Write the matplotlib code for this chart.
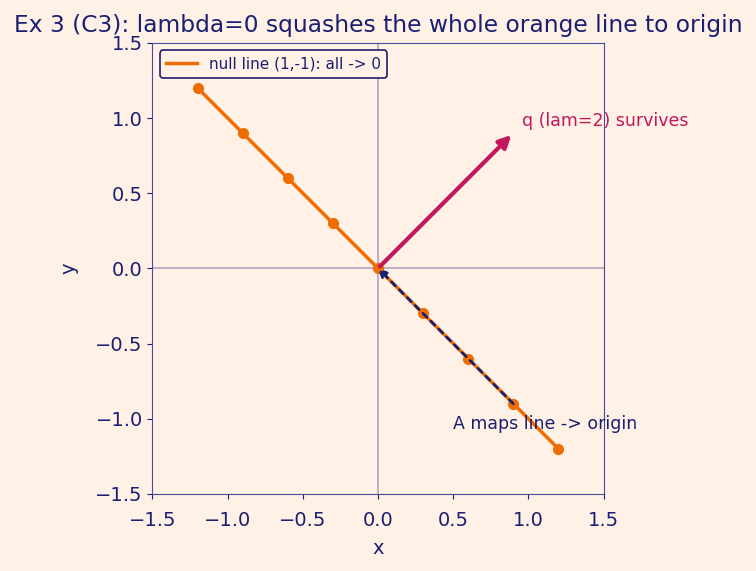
import numpy as np
import matplotlib
matplotlib.use("Agg")
import matplotlib.pyplot as plt

# points on the null line (1,-1)
t_vals = [-1.2, -0.9, -0.6, -0.3, 0.0, 0.3, 0.6, 0.9, 1.2]
line_x = [t for t in t_vals]
line_y = [-t for t in t_vals]

q_vec = [0.9, 0.9]
mapped_start = [0.9, -0.9]
mapped_end = [0.0, 0.0]

bg = "#fff1e6"
navy = "#1a1f71"
orange = "#ef6c00"
crimson = "#c2185b"

fig = plt.figure(figsize=(7.56, 5.71), dpi=100, facecolor=bg)
ax = fig.add_axes([0.201, 0.135, 0.598, 0.79])
ax.set_facecolor(bg)

ax.axhline(0, color="#b3a3c3", lw=1.2, zorder=1)
ax.axvline(0, color="#b3a3c3", lw=1.2, zorder=1)

ax.plot(line_x, line_y, color=orange, lw=2.5, zorder=3,
        label="null line (1,-1): all -> 0")
ax.plot(line_x, line_y, color=orange, lw=0, marker="o", ms=7, zorder=3)

ax.annotate("", xy=q_vec, xytext=(0, 0),
            arrowprops=dict(arrowstyle="-|>", color=crimson, lw=3, mutation_scale=18),
            zorder=4)
ax.text(0.96, 0.95, "q (lam=2) survives", color=crimson, fontsize=12.5)

ax.annotate("", xy=mapped_end, xytext=mapped_start,
            arrowprops=dict(arrowstyle="-|>", color=navy, lw=2, ls=(0, (2, 2)),
                            mutation_scale=12, shrinkA=0, shrinkB=0),
            zorder=5)
ax.text(0.5, -1.07, "A maps line -> origin", color=navy, fontsize=12.5)

ax.set_xlim(-1.5, 1.5)
ax.set_ylim(-1.5, 1.5)
ax.set_aspect("equal")
ax.set_xticks([-1.5, -1.0, -0.5, 0.0, 0.5, 1.0, 1.5])
ax.set_yticks([-1.5, -1.0, -0.5, 0.0, 0.5, 1.0, 1.5])
ax.tick_params(colors=navy, labelsize=14)
ax.tick_params(axis="x", pad=9)
for s in ax.spines.values():
    s.set_color("#4a4a9a")
ax.set_xlabel("x", color=navy, fontsize=14, labelpad=6)
ax.set_ylabel("y", color=navy, fontsize=14, labelpad=12)
ax.set_title("Ex 3 (C3): lambda=0 squashes the whole orange line to origin",
             color=navy, fontsize=16.8, pad=8)

leg = ax.legend(loc="upper left", fontsize=11, facecolor=bg, edgecolor=navy,
                framealpha=1, labelcolor=navy, borderaxespad=0.5)
leg.get_frame().set_linewidth(1.2)

fig.savefig("out.png", dpi=100, facecolor=bg)
